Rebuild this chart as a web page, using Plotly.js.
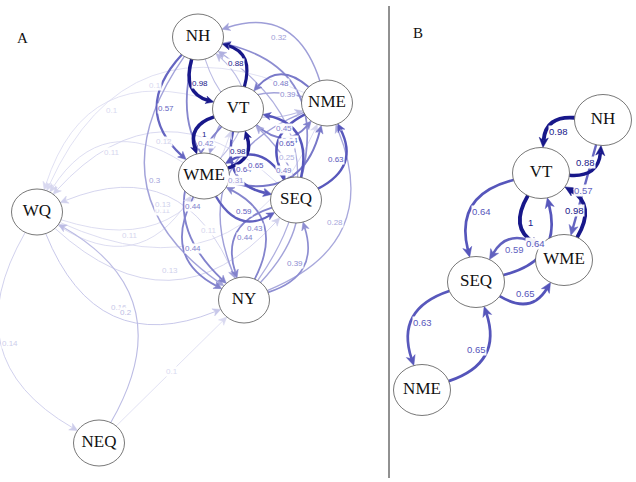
<!DOCTYPE html>
<html><head><meta charset="utf-8">
<script src="https://cdn.plot.ly/plotly-3.0.1.min.js"></script>
<style>html,body{margin:0;padding:0;background:#fff}#chart{width:636px;height:482px}</style>
</head><body><div id="chart"></div>
<script>
// ---------- Panel A network ----------
const nodesA = ["NH","VT","NME","WME","SEQ","NY","WQ","NEQ"];
const layoutXA = [198,238,327,204,296,244,37,99];
const layoutYA = [37,109,103,176,200,300,212,443];
const edgeFromA = ["NH","VT","NH","WME","NME","NH","SEQ","NH","NY","NME","VT","VT","WME","VT","SEQ","VT","NY","VT","WQ","NME","WME","NME","SEQ","NME","NY","NME","WQ","WME","SEQ","WME","NY","WME","WQ","SEQ","NY","SEQ","WQ","NY","WQ","WQ","NEQ","NEQ","NH"];
const edgeToA   = ["VT","NH","WME","NH","NH","SEQ","NH","NY","NH","VT","NME","WME","VT","SEQ","VT","NY","VT","WQ","VT","WME","NME","SEQ","NME","NY","NME","WQ","NME","SEQ","WME","NY","WME","WQ","WME","NY","SEQ","WQ","SEQ","WQ","NY","NEQ","WQ","NY","NME"];
const edgeWA    = [0.98,0.88,0.57,0.2,0.32,0.42,0.39,0.3,0.25,0.48,0.45,1,0.98,0.64,0.64,0.44,0.3,0.1,0.11,0.3,0.49,0.65,0.63,0.31,0.28,0.1,0.11,0.59,0.65,0.44,0.43,0.11,0.11,0.44,0.39,0.12,0.13,0.13,0.16,0.14,0.2,0.1,0.2];

// ---------- Panel B network ----------
const nodesB = ["NH","VT","WME","SEQ","NME"];
const layoutXB = [603,541,564,476,422];
const layoutYB = [120,173,260,282,390];
const edgeFromB = ["NH","VT","NH","WME","VT","VT","SEQ","WME","SEQ","SEQ","NME"];
const edgeToB   = ["VT","NH","WME","VT","WME","SEQ","VT","SEQ","WME","NME","SEQ"];
const edgeWB    = [0.98,0.88,0.57,0.98,1,0.64,0.64,0.59,0.65,0.63,0.65];

const panelLabels = ["A","B"];

const shapes = [];
const annotations = [];
const edgeShapes = [], arrowShapes = [], nodeShapes = [];

function edgeColor(w){
  if (w >= 0.8) return 'rgb(24,24,138)';
  const a = Math.pow(Math.min(1, w/0.65), 0.8);
  const base = [84,84,186];
  const c = base.map(v => Math.round(255 - a*(255-v)));
  return 'rgb('+c.join(',')+')';
}

function drawNet(nodes, xs, ys, from, to, w, o){
  const idx = n => nodes.indexOf(n);
  const pairs = new Set(from.map((f,i)=>f+'>'+to[i]));
  const bnd = (x,y,dx,dy) => {
    const l = Math.hypot(dx,dy)||1; dx/=l; dy/=l;
    const t = 1/Math.sqrt((dx/o.rx)**2 + (dy/o.ry)**2);
    return [x+t*dx, y+t*dy];
  };
  const insideNode = (px,py) => xs.some((x,k)=>((px-x)/o.rx)**2+((py-ys[k])/o.ry)**2 < 1);
  const order = w.map((v,i)=>i).sort((a,b)=>w[a]-w[b]);
  for (const i of order){
    const a = idx(from[i]), b = idx(to[i]);
    const x1=xs[a], y1=ys[a], x2=xs[b], y2=ys[b];
    const dx=x2-x1, dy=y2-y1;
    const c = pairs.has(to[i]+'>'+from[i]) ? 0.5 : 0;
    const mx=(x1+x2)/2, my=(y1+y2)/2;
    const cx = mx - c*dy, cy = my + c*dx;
    const S = bnd(x1,y1,cx-x1,cy-y1);
    const E = bnd(x2,y2,cx-x2,cy-y2);
    let ux=E[0]-cx, uy=E[1]-cy; const ul=Math.hypot(ux,uy); ux/=ul; uy/=ul;
    const col = edgeColor(w[i]);
    const lw = o.w0 + o.w1*w[i];
    const La = o.La, Wa = o.Wa;
    const Ee = [E[0]-0.7*La*ux, E[1]-0.7*La*uy];
    const path = c === 0
      ? `M${S[0]},${S[1]} L${Ee[0]},${Ee[1]}`
      : `M${S[0]},${S[1]} Q${cx},${cy} ${Ee[0]},${Ee[1]}`;
    edgeShapes.push({type:'path', xref:'x', yref:'y', path, line:{color:col, width:lw}, layer:'below'});
    const px=-uy, py=ux;
    const Bx=E[0]-La*ux, By=E[1]-La*uy;
    const Nx=E[0]-0.72*La*ux, Ny=E[1]-0.72*La*uy;
    arrowShapes.push({type:'path', xref:'x', yref:'y',
      path:`M${E[0]},${E[1]} L${Bx+Wa*px},${By+Wa*py} L${Nx},${Ny} L${Bx-Wa*px},${By-Wa*py} Z`,
      fillcolor:col, line:{color:col, width:0.5}, layer:'below'});
    const lx = mx + 0.5*(cx-mx), ly = my + 0.5*(cy-my);
    if (!insideNode(lx,ly)){
      annotations.push({x:lx, y:ly, xref:'x', yref:'y', text:String(w[i]), showarrow:false,
        font:{family:'Liberation Sans, Arial, sans-serif', size:o.fs, color:col},
        bgcolor:'rgba(255,255,255,0.95)', borderpad:0});
    }
  }
  xs.forEach((x,k)=>{
    nodeShapes.push({type:'circle', xref:'x', yref:'y', x0:x-o.rx, x1:x+o.rx, y0:ys[k]-o.ry, y1:ys[k]+o.ry,
      fillcolor:'white', line:{color:'#555', width:0.8}, layer:'below'});
  });
}

drawNet(nodesA, layoutXA, layoutYA, edgeFromA, edgeToA, edgeWA, {rx:25.5, ry:23, w0:0.5, w1:3.0, La:8, Wa:3.8, fs:8});
drawNet(nodesB, layoutXB, layoutYB, edgeFromB, edgeToB, edgeWB, {rx:28.5, ry:25.5, w0:0.5, w1:3.4, La:10, Wa:4.6, fs:9.5});

shapes.push(...edgeShapes, ...arrowShapes, ...nodeShapes);
shapes.push({type:'line', xref:'x', yref:'y', x0:389, x1:389, y0:6, y1:478, line:{color:'#222', width:1}, layer:'below'});

annotations.push({x:22, y:38, xref:'x', yref:'y', text:panelLabels[0], showarrow:false,
  font:{family:'Liberation Serif, Times New Roman, serif', size:15, color:'#111'}});
annotations.push({x:418, y:33, xref:'x', yref:'y', text:panelLabels[1], showarrow:false,
  font:{family:'Liberation Serif, Times New Roman, serif', size:15, color:'#111'}});

const traces = [
  {type:'scatter', mode:'text', x:layoutXA, y:layoutYA, text:nodesA, hoverinfo:'skip', cliponaxis:false,
   textfont:{family:'Liberation Serif, Times New Roman, serif', size:17, color:'#111'}},
  {type:'scatter', mode:'text', x:layoutXB, y:layoutYB, text:nodesB, hoverinfo:'skip', cliponaxis:false,
   textfont:{family:'Liberation Serif, Times New Roman, serif', size:17, color:'#111'}}
];

const layout = {
  width:636, height:482, margin:{l:0,r:0,t:0,b:0},
  paper_bgcolor:'white', plot_bgcolor:'white', showlegend:false,
  xaxis:{range:[0,636], visible:false, fixedrange:true},
  yaxis:{range:[482,0], visible:false, fixedrange:true},
  shapes, annotations
};
Plotly.newPlot('chart', traces, layout, {staticPlot:true, displayModeBar:false});
</script>
</body></html>
